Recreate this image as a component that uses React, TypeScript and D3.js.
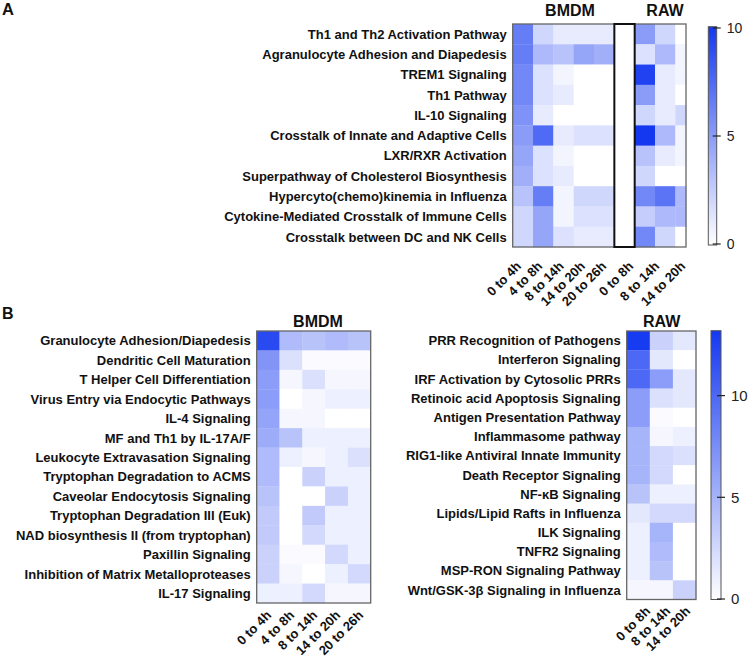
import React from 'react';
import * as d3 from 'd3';

// ---------- Panel A data ----------
const rowsA = [
  'Th1 and Th2 Activation Pathway',
  'Agranulocyte Adhesion and Diapedesis',
  'TREM1 Signaling',
  'Th1 Pathway',
  'IL-10 Signaling',
  'Crosstalk of Innate and Adaptive Cells',
  'LXR/RXR Activation',
  'Superpathway of Cholesterol Biosynthesis',
  'Hypercyto(chemo)kinemia in Influenza',
  'Cytokine-Mediated Crosstalk of Immune Cells',
  'Crosstalk between DC and NK Cells',
];
const timesBMDM = ['0 to 4h', '4 to 8h', '8 to 14h', '14 to 20h', '20 to 26h'];
const timesRAW = ['0 to 8h', '8 to 14h', '14 to 20h'];
const valuesA_BMDM = [
  [6.5, 2, 1, 1, 1],
  [6.5, 3.5, 3, 4.5, 4],
  [6, 1.5, 0.5, 0, 0],
  [6, 1.5, 1, 0, 0],
  [5.5, 1, 0, 0, 0],
  [5, 7.5, 1, 1.5, 1.5],
  [4.5, 1.5, 0.5, 0, 0],
  [4, 1.5, 1, 0, 0],
  [3, 6.5, 0.5, 2, 2],
  [2, 4.5, 0.5, 1.5, 1.5],
  [2, 4.5, 1.5, 1, 1],
];
const valuesA_RAW = [
  [5, 2, 0],
  [1.5, 3.5, 0.5],
  [9.5, 1, 0.5],
  [5, 1, 0],
  [2, 1, 2],
  [10, 3.5, 0.5],
  [3, 1, 0.5],
  [2, 0, 0],
  [6, 7, 3.5],
  [2.5, 3.5, 3.5],
  [6, 2, 0],
];
const ticksA = [0, 5, 10];

// ---------- Panel B data ----------
const rowsB_BMDM = [
  'Granulocyte Adhesion/Diapedesis',
  'Dendritic Cell Maturation',
  'T Helper Cell Differentiation',
  'Virus Entry via Endocytic Pathways',
  'IL-4 Signaling',
  'MF and Th1 by IL-17A/F',
  'Leukocyte Extravasation Signaling',
  'Tryptophan Degradation to ACMS',
  'Caveolar Endocytosis Signaling',
  'Tryptophan Degradation III (Euk)',
  'NAD biosynthesis II (from tryptophan)',
  'Paxillin Signaling',
  'Inhibition of Matrix Metalloproteases',
  'IL-17 Signaling',
];
const valuesB_BMDM = [
  [12, 4.5, 4, 4.5, 4],
  [7, 2, 0.3, 0.3, 0.3],
  [6.5, 0.5, 2, 0.5, 0.5],
  [6.5, 0, 0.5, 1, 1],
  [6, 0.5, 0.5, 0, 0],
  [5.5, 4, 1, 1, 1],
  [4.5, 1, 0.5, 1, 2],
  [4.5, 0, 3, 1, 1],
  [4, 0, 0, 3, 1],
  [3.5, 0, 3.5, 1, 1],
  [3.5, 0, 2.5, 1, 1],
  [3, 0.3, 0.3, 2.5, 1],
  [3, 0.5, 0, 1, 2.5],
  [1, 1, 2.5, 0.5, 0.5],
];
const rowsB_RAW = [
  'PRR Recognition of Pathogens',
  'Interferon Signaling',
  'IRF Activation by Cytosolic PRRs',
  'Retinoic acid Apoptosis Signaling',
  'Antigen Presentation Pathway',
  'Inflammasome pathway',
  'RIG1-like Antiviral Innate Immunity',
  'Death Receptor Signaling',
  'NF-κB Signaling',
  'Lipids/Lipid Rafts in Influenza',
  'ILK Signaling',
  'TNFR2 Signaling',
  'MSP-RON Signaling Pathway',
  'Wnt/GSK-3β Signaling in Influenza',
];
const valuesB_RAW = [
  [13, 3, 1.5],
  [10, 1.5, 0],
  [10, 6.5, 1.5],
  [6.5, 2, 1.5],
  [6.5, 0.3, 0],
  [5, 0.5, 1],
  [5, 2.5, 2],
  [5, 2.5, 0],
  [4, 1, 1],
  [1.5, 2.5, 2.5],
  [1, 5, 0],
  [1, 4.5, 0],
  [1, 4, 0],
  [0.5, 0.5, 3],
];
const ticksB = [0, 5, 10];

const FONT = '"Liberation Sans", Arial, Helvetica, sans-serif';
const MAXCOLOR = '#1438f0';

type HMProps = {
  rows: string[];
  cols: string[];
  values: number[][];
  x0: number; x1: number; clipX?: number;
  y0: number; y1: number;
  color: (v: number) => string;
  skip?: string[];
};

function Cells({ rows, cols, values, x0, x1, clipX, y0, y1, color, skip = [] }: HMProps) {
  const x = d3.scaleBand<string>().domain(cols).range([x0, x1]);
  const y = d3.scaleBand<string>().domain(rows).range([y0, y1]);
  const out: React.ReactNode[] = [];
  const dataCols = cols.filter((c) => !skip.includes(c));
  rows.forEach((r, i) => {
    dataCols.forEach((c, j) => {
      const xs = x(c)!;
      const right = Math.min(xs + x.bandwidth(), clipX ?? Infinity);
      out.push(
        <rect key={r + c} x={xs} y={y(r)!} width={right - xs + 0.3} height={y.bandwidth() + 0.3}
          fill={color(values[i][j])} />
      );
    });
  });
  return <g>{out}</g>;
}

function RowLabels({ rows, xr, y0, y1 }: { rows: string[]; xr: number; y0: number; y1: number }) {
  const y = d3.scaleBand<string>().domain(rows).range([y0, y1]);
  return (
    <g fontFamily={FONT} fontWeight="bold" fontSize={13} fill="#111" textAnchor="end">
      {rows.map((r) => (
        <text key={r} x={xr} y={y(r)! + y.bandwidth() / 2} dy="0.36em">{r}</text>
      ))}
    </g>
  );
}

function XLabels({ labels, xa, xb, y }: { labels: string[]; xa: number; xb: number; y: number }) {
  const x = d3.scalePoint<string>().domain(labels).range([xa, xb]);
  return (
    <g fontFamily={FONT} fontWeight="bold" fontSize={13} fill="#111" textAnchor="end">
      {labels.map((l) => (
        <text key={l} transform={`translate(${x(l)},${y}) rotate(-45)`}>{l}</text>
      ))}
    </g>
  );
}

function ColorBar({ id, x, w, top, bottom, scale, ticks, fontSize }: {
  id: string; x: number; w: number; top: number; bottom: number;
  scale: d3.ScaleLinear<number, number>; ticks: number[]; fontSize: number;
}) {
  return (
    <g>
      <defs>
        <linearGradient id={id} x1="0" y1="1" x2="0" y2="0">
          <stop offset="0" stopColor="#ffffff" />
          <stop offset="1" stopColor={MAXCOLOR} />
        </linearGradient>
      </defs>
      <rect x={x} y={top} width={w} height={bottom - top} fill={`url(#${id})`} stroke="#555" strokeWidth={1} />
      {ticks.map((t) => (
        <g key={t}>
          <line x1={x + w - 4} x2={x + w + 4} y1={scale(t)} y2={scale(t)} stroke="#222" strokeWidth={1.2} />
          <text x={x + w + 10} y={scale(t)} dy="0.36em" fontFamily={FONT} fontSize={fontSize} fill="#222">{t}</text>
        </g>
      ))}
    </g>
  );
}

export default function App() {
  // Panel A geometry
  const aTop = 24, aBot = 247;
  const aX0 = 512.7, aStep = 20.33;
  const colsA = [...timesBMDM.map((t) => 'B|' + t), 'gap', ...timesRAW.map((t) => 'R|' + t)];
  const aX1 = aX0 + aStep * colsA.length;
  const aClip = 686;
  const colorA = d3.scaleLinear<string>().domain([0, 10]).range(['#ffffff', MAXCOLOR]).interpolate(d3.interpolateRgb).clamp(true);
  const valuesA = valuesA_BMDM.map((r, i) => [...r, ...valuesA_RAW[i]]);
  const xA = d3.scaleBand<string>().domain(colsA).range([aX0, aX1]);
  const cbA = d3.scaleLinear().domain([0, 10]).range([244, 28]);

  // Panel B geometry
  const bTop = 331, bBotL = 603, bBotR = 599.5;
  const bLX0 = 256.7, bLX1 = 370.7;
  const bRX0 = 626.7, bRX1 = 696;
  const cbB = d3.scaleLinear().domain([0, 10]).range([599, 395.6]);
  const bMax = cbB.invert(330.7);
  const colorB = d3.scaleLinear<string>().domain([0, bMax]).range(['#ffffff', MAXCOLOR]).interpolate(d3.interpolateRgb).clamp(true);

  return (
    <svg width={750} height={662} style={{ position: 'absolute', left: 0, top: 0, background: '#fff' }}>
      <rect width={750} height={662} fill="#fff" />
      {/* Panel letters */}
      <text x={2} y={15} fontFamily={FONT} fontWeight="bold" fontSize={16.5} fill="#111">A</text>
      <text x={2} y={318.5} fontFamily={FONT} fontWeight="bold" fontSize={16} fill="#111">B</text>

      {/* ---------- Panel A ---------- */}
      <text x={570} y={15.5} textAnchor="middle" fontFamily={FONT} fontWeight="bold" fontSize={16} fill="#111">BMDM</text>
      <text x={665} y={15.5} textAnchor="middle" fontFamily={FONT} fontWeight="bold" fontSize={16} fill="#111">RAW</text>
      <Cells rows={rowsA} cols={colsA} values={valuesA} x0={aX0} x1={aX1} clipX={aClip} y0={aTop} y1={aBot}
        color={colorA} skip={['gap']} />
      <rect x={aX0} y={aTop} width={aClip - aX0} height={aBot - aTop} fill="none" stroke="#666" strokeWidth={1.3} />
      <rect x={xA('gap')!} y={aTop} width={xA.bandwidth()} height={aBot - aTop} fill="#fff" stroke="#111" strokeWidth={2} />
      <RowLabels rows={rowsA} xr={506.7} y0={aTop} y1={aBot} />
      <XLabels labels={timesBMDM} xa={xA('B|0 to 4h')! + aStep / 2 - 1} xb={xA('B|20 to 26h')! + aStep / 2 + 3} y={267} />
      <XLabels labels={timesRAW} xa={634} xb={686} y={267} />
      <ColorBar id="cbA" x={708.3} w={8.4} top={26.7} bottom={245} scale={cbA} ticks={ticksA} fontSize={14} />

      {/* ---------- Panel B ---------- */}
      <text x={318} y={327} textAnchor="middle" fontFamily={FONT} fontWeight="bold" fontSize={16} fill="#111">BMDM</text>
      <text x={661.7} y={326.5} textAnchor="middle" fontFamily={FONT} fontWeight="bold" fontSize={16} fill="#111">RAW</text>

      <Cells rows={rowsB_BMDM} cols={timesBMDM} values={valuesB_BMDM} x0={bLX0} x1={bLX1} y0={bTop} y1={bBotL} color={colorB} />
      <rect x={bLX0} y={bTop} width={bLX1 - bLX0} height={bBotL - bTop} fill="none" stroke="#666" strokeWidth={1.3} />
      <RowLabels rows={rowsB_BMDM} xr={250.7} y0={bTop} y1={bBotL} />
      <XLabels labels={timesBMDM} xa={272} xb={364} y={616} />

      <Cells rows={rowsB_RAW} cols={timesRAW} values={valuesB_RAW} x0={bRX0} x1={bRX1} y0={bTop} y1={bBotR} color={colorB} />
      <rect x={bRX0} y={bTop} width={bRX1 - bRX0} height={bBotR - bTop} fill="none" stroke="#666" strokeWidth={1.3} />
      <RowLabels rows={rowsB_RAW} xr={620.7} y0={bTop} y1={bBotR} />
      <XLabels labels={timesRAW} xa={651} xb={691} y={612} />

      <ColorBar id="cbB" x={711} w={10} top={330.7} bottom={599.5} scale={cbB} ticks={ticksB} fontSize={15} />
    </svg>
  );
}
